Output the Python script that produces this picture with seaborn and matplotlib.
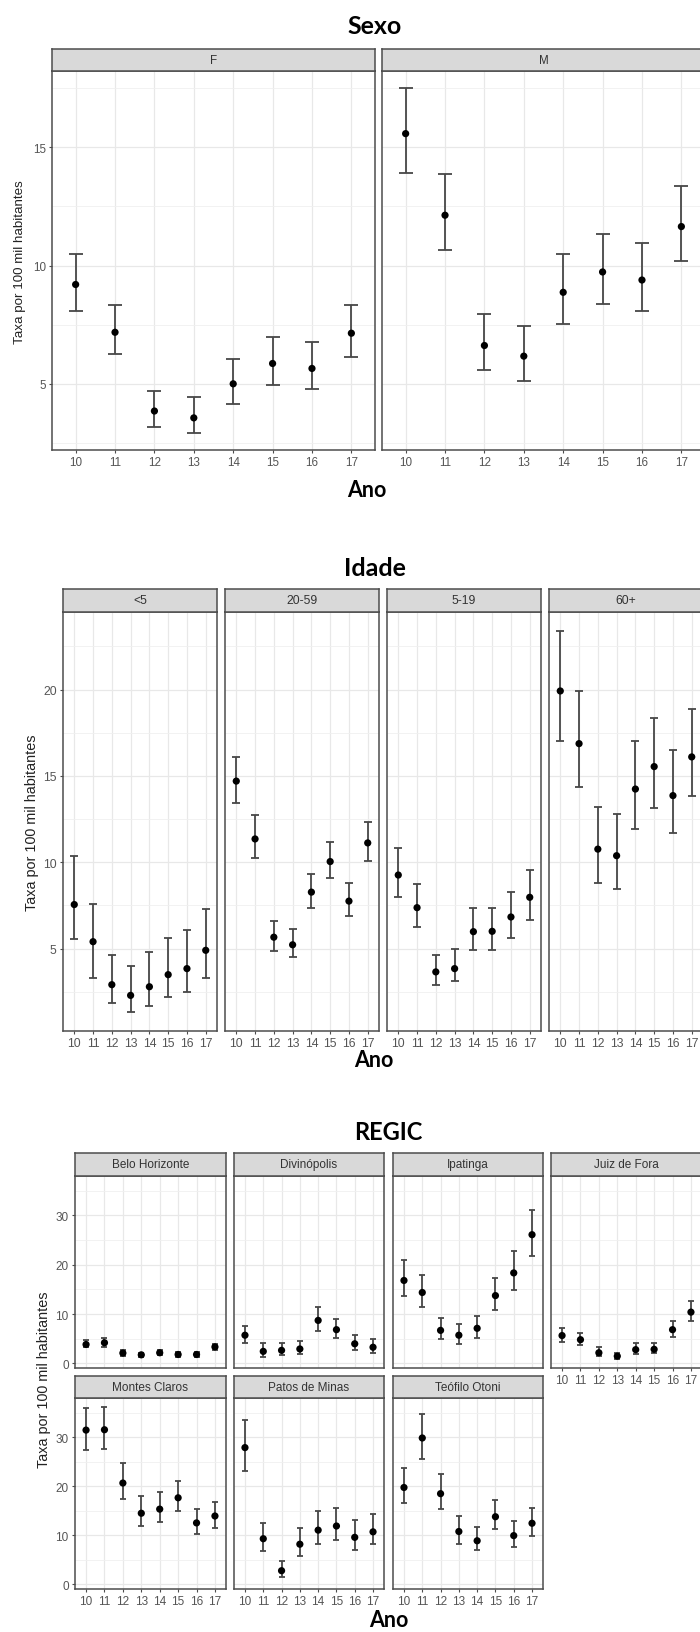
import numpy as np
import pandas as pd
import matplotlib
matplotlib.use("Agg")
import matplotlib.pyplot as plt
import seaborn as sns

# anos (eixo x) - comum a todos os paineis
anos = ['10', '11', '12', '13', '14', '15', '16', '17']

# --- Sexo ---
sexo_grupos = ['F', 'M']
sexo_taxa = {'F': [9.2, 7.18, 3.85, 3.56, 5.0, 5.86, 5.65, 7.14],
             'M': [15.58, 12.13, 6.62, 6.17, 8.87, 9.73, 9.39, 11.65]}
sexo_inf = {'F': [8.06, 6.24, 3.17, 2.93, 4.13, 4.94, 4.76, 6.15],
            'M': [13.9, 10.65, 5.59, 5.14, 7.54, 8.39, 8.08, 10.18]}
sexo_sup = {'F': [10.49, 8.35, 4.69, 4.44, 6.03, 6.97, 6.76, 8.35],
            'M': [17.5, 13.86, 7.94, 7.45, 10.49, 11.35, 10.94, 13.37]}

# --- Idade ---
idade_grupos = ['<5', '20-59', '5-19', '60+']
idade_taxa = {'<5': [7.55, 5.4, 2.91, 2.29, 2.79, 3.49, 3.84, 4.9],
              '20-59': [14.7, 11.35, 5.66, 5.22, 8.27, 10.04, 7.75, 11.12],
              '5-19': [9.26, 7.37, 3.65, 3.84, 5.98, 6.0, 6.83, 7.97],
              '60+': [19.92, 16.87, 10.76, 10.38, 14.24, 15.54, 13.86, 16.1]}
idade_inf = {'<5': [5.56, 3.27, 1.87, 1.33, 1.65, 2.19, 2.47, 3.31],
             '20-59': [13.43, 10.22, 4.88, 4.54, 7.35, 9.08, 6.87, 10.08],
             '5-19': [8.0, 6.25, 2.91, 3.1, 4.9, 4.9, 5.64, 6.67],
             '60+': [17.01, 14.36, 8.82, 8.47, 11.93, 13.17, 11.67, 13.82]}
idade_sup = {'<5': [10.38, 7.59, 4.6, 4.0, 4.8, 5.64, 6.1, 7.29],
             '20-59': [16.1, 12.71, 6.59, 6.12, 9.32, 11.18, 8.78, 12.33],
             '5-19': [10.82, 8.75, 4.64, 4.96, 7.33, 7.35, 8.29, 9.58],
             '60+': [23.39, 19.94, 13.21, 12.79, 17.05, 18.37, 16.51, 18.88]}

# --- REGIC ---
regic_grupos = ['Belo Horizonte', 'Divinópolis', 'Ipatinga', 'Juiz de Fora',
                'Montes Claros', 'Patos de Minas', 'Teófilo Otoni']
regic_taxa = {'Belo Horizonte': [3.84, 4.19, 2.1, 1.74, 2.16, 1.81, 1.81, 3.35],
              'Divinópolis': [5.72, 2.44, 2.65, 2.93, 8.72, 6.84, 3.98, 3.28],
              'Ipatinga': [16.82, 14.38, 6.7, 5.72, 7.12, 13.75, 18.35, 26.1],
              'Juiz de Fora': [5.65, 4.81, 2.16, 1.47, 2.79, 2.86, 6.84, 10.4],
              'Montes Claros': [31.46, 31.53, 20.67, 14.51, 15.35, 17.66, 12.54, 13.95],
              'Patos de Minas': [27.89, 9.32, 2.8, 8.2, 11.07, 11.91, 9.6, 10.72],
              'Teófilo Otoni': [19.76, 29.85, 18.5, 10.79, 8.9, 13.8, 9.95, 12.47]}
regic_inf = {'Belo Horizonte': [3.3, 3.35, 1.6, 1.25, 1.67, 1.4, 1.33, 2.72],
             'Divinópolis': [4.12, 1.4, 1.67, 1.88, 6.63, 5.16, 2.72, 2.16],
             'Ipatinga': [13.75, 11.51, 4.88, 3.98, 5.16, 10.89, 14.93, 21.84],
             'Juiz de Fora': [4.4, 3.7, 1.54, 0.84, 1.95, 2.02, 5.37, 8.58],
             'Montes Claros': [27.47, 27.68, 17.45, 11.91, 12.75, 14.93, 10.3, 11.56],
             'Patos de Minas': [23.13, 6.8, 1.61, 5.82, 8.2, 9.11, 7.08, 8.2],
             'Teófilo Otoni': [16.6, 25.65, 15.28, 8.34, 7.0, 11.28, 7.71, 9.95]}
regic_sup = {'Belo Horizonte': [4.8, 5.2, 2.65, 2.2, 2.65, 2.3, 2.3, 3.98],
             'Divinópolis': [7.68, 4.05, 4.12, 4.47, 11.37, 9.07, 5.86, 4.88],
             'Ipatinga': [20.87, 18.0, 9.21, 8.09, 9.7, 17.38, 22.82, 31.12],
             'Juiz de Fora': [7.19, 6.21, 3.28, 2.16, 4.05, 4.05, 8.51, 12.56],
             'Montes Claros': [35.95, 36.23, 24.74, 18.01, 18.78, 21.09, 15.42, 16.89],
             'Patos de Minas': [33.5, 12.61, 4.84, 11.42, 14.93, 15.56, 13.1, 14.3],
             'Teófilo Otoni': [23.69, 34.83, 22.5, 13.88, 11.7, 17.31, 12.89, 15.49]}

sns.set_style("white")
plt.rcParams['font.family'] = ['Liberation Sans', 'DejaVu Sans']

W, H = 700, 1633
fig = plt.figure(figsize=(W / 100, H / 100), dpi=100)


def box(x0, y0, x1, y1):
    return [x0 / W, 1 - y1 / H, (x1 - x0) / W, (y1 - y0) / H]


def ggplot_lim(inf, sup):
    lo = min(min(v) for v in inf.values())
    hi = max(max(v) for v in sup.values())
    pad = (hi - lo) * 0.05
    return lo - pad, hi + pad


def painel(ax_px, strip_px, grupo, taxa, inf, sup, ylim, yt, ym, fs, cap,
           show_y, show_x):
    ax = fig.add_axes(box(*ax_px))
    df = pd.DataFrame({'ano': anos, 'pos': np.arange(len(anos)),
                       'taxa': taxa, 'inf': inf, 'sup': sup})
    ax.errorbar(df['pos'], df['taxa'],
                yerr=[df['taxa'] - df['inf'], df['sup'] - df['taxa']],
                fmt='none', ecolor='#474747', elinewidth=1.3, capsize=cap,
                capthick=1.3, zorder=3)
    sns.scatterplot(data=df, x='pos', y='taxa', ax=ax, color='black', s=27,
                    edgecolor='none', zorder=4, legend=False)
    ax.set_xlim(-0.6, len(anos) - 0.4)
    ax.set_ylim(ylim)
    ax.set_xticks(df['pos'])
    ax.set_xticklabels(anos if show_x else [])
    ax.set_yticks(yt)
    ax.set_yticklabels([str(v) for v in yt] if show_y else [])
    ax.set_yticks(ym, minor=True)
    ax.set_xlabel('')
    ax.set_ylabel('')
    ax.set_axisbelow(True)
    ax.grid(which='major', color='#E8E8E8', lw=0.9)
    ax.grid(which='minor', axis='y', color='#F0F0F0', lw=0.6)
    ax.tick_params(which='major', length=2.5, width=0.8, color='#4D4D4D',
                   labelsize=fs, labelcolor='#555555', pad=2,
                   left=show_y, bottom=show_x)
    ax.tick_params(which='minor', length=0)
    for s in ax.spines.values():
        s.set_color('#4D4D4D')
        s.set_linewidth(1.1)

    st = fig.add_axes(box(*strip_px))
    st.set_facecolor('#D9D9D9')
    st.set_xticks([])
    st.set_yticks([])
    for s in st.spines.values():
        s.set_color('#4D4D4D')
        s.set_linewidth(1.1)
    st.text(0.5, 0.5, grupo, ha='center', va='center', fontsize=fs,
            color='#333333', transform=st.transAxes)
    return ax


def titulo(x, y, txt, size):
    fig.text(x / W, 1 - y / H, txt, ha='center', va='center', fontsize=size,
             family=['Lato', 'DejaVu Sans'], fontweight='bold', color='black')


def ylab(x, y, size):
    fig.text(x / W, 1 - y / H, 'Taxa por 100 mil habitantes', rotation=90,
             ha='center', va='center', fontsize=size, color='#222222')


# ---------- Sexo ----------
titulo(375, 26, 'Sexo', 18)
ylim = ggplot_lim(sexo_inf, sexo_sup)
sexo_x = [(52, 375), (382, 705)]
for i, g in enumerate(sexo_grupos):
    x0, x1 = sexo_x[i]
    painel((x0, 72, x1, 451), (x0, 50, x1, 72), g, sexo_taxa[g], sexo_inf[g],
           sexo_sup[g], ylim, [5, 10, 15], [2.5, 7.5, 12.5, 17.5], 8.4, 5.2,
           i == 0, True)
ylab(20, 262, 9.6)
titulo(367, 491, 'Ano', 15.5)

# ---------- Idade ----------
titulo(375, 569, 'Idade', 18)
ylim = ggplot_lim(idade_inf, idade_sup)
idade_x = [(63, 217), (225, 379), (387, 541), (549, 703)]
for i, g in enumerate(idade_grupos):
    x0, x1 = idade_x[i]
    painel((x0, 613, x1, 1032), (x0, 590, x1, 613), g, idade_taxa[g],
           idade_inf[g], idade_sup[g], ylim, [5, 10, 15, 20],
           [2.5, 7.5, 12.5, 17.5, 22.5], 8.8, 2.8, i == 0, True)
ylab(32, 823, 10.4)
titulo(374, 1061, 'Ano', 15.5)

# ---------- REGIC ----------
titulo(388, 1133, 'REGIC', 17)
ylim = ggplot_lim(regic_inf, regic_sup)
regic_x = [(75, 226), (234, 384), (393, 543), (551, 702)]
regic_y = [((1177, 1369), (1154, 1177)), ((1399, 1590), (1377, 1399))]
for i, g in enumerate(regic_grupos):
    lin, col = divmod(i, 4)
    x0, x1 = regic_x[col]
    (a0, a1), (s0, s1) = regic_y[lin]
    show_x = lin == 1 or i == 3
    painel((x0, a0, x1, a1), (x0, s0, x1, s1), g, regic_taxa[g],
           regic_inf[g], regic_sup[g], ylim, [0, 10, 20, 30],
           [5, 15, 25, 35], 8.5, 2.3, col == 0, show_x)
ylab(44, 1380, 10.4)
titulo(389, 1621, 'Ano', 15.5)

fig.savefig('out.png', dpi=100, facecolor='white')
